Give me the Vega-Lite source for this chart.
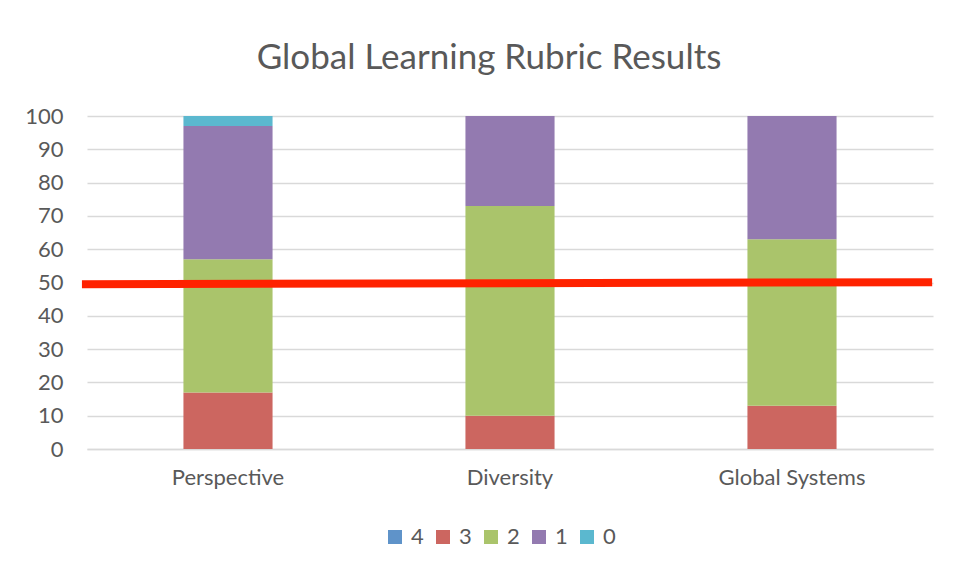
{
  "$schema": "https://vega.github.io/schema/vega-lite/v6.json",
  "autosize": "none",
  "width": 846,
  "height": 333,
  "padding": {"left": 87, "top": 116, "right": 23, "bottom": 128},
  "background": "white",
  "config": {
    "font": "Lato",
    "view": {"stroke": null},
    "axis": {"labelColor": "#595959", "labelFont": "Lato", "labelFontSize": 22, "gridColor": "#D9D9D9", "gridWidth": 1.5, "domainColor": "#D9D9D9", "domainWidth": 1.5, "ticks": false, "title": null},
    "legend": {"labelColor": "#595959", "labelFontSize": 22, "labelFont": "Lato"}
  },
  "title": {"text": "Global Learning Rubric Results", "fontSize": 35, "font": "Lato", "fontWeight": "normal", "color": "#595959", "anchor": "middle", "dx": -21, "offset": 29},
  "datasets": {
    "scores": [
      {"category": "Perspective", "score": "4", "value": 0},
      {"category": "Perspective", "score": "3", "value": 17},
      {"category": "Perspective", "score": "2", "value": 40},
      {"category": "Perspective", "score": "1", "value": 40},
      {"category": "Perspective", "score": "0", "value": 3},
      {"category": "Diversity", "score": "4", "value": 0},
      {"category": "Diversity", "score": "3", "value": 10},
      {"category": "Diversity", "score": "2", "value": 63},
      {"category": "Diversity", "score": "1", "value": 27},
      {"category": "Diversity", "score": "0", "value": 0},
      {"category": "Global Systems", "score": "4", "value": 0},
      {"category": "Global Systems", "score": "3", "value": 13},
      {"category": "Global Systems", "score": "2", "value": 50},
      {"category": "Global Systems", "score": "1", "value": 37},
      {"category": "Global Systems", "score": "0", "value": 0}
    ],
    "benchmark": [
      {"start": -0.006, "end": 0.999, "yStart": 49.5, "yEnd": 50.1}
    ]
  },
  "layer": [
    {
      "data": {"name": "scores"},
      "mark": {"type": "bar"},
      "encoding": {
        "x": {"field": "category", "type": "nominal", "sort": ["Perspective", "Diversity", "Global Systems"],
              "scale": {"paddingInner": 0.684, "paddingOuter": 0.342},
              "axis": {"labelAngle": 0, "labelPadding": 18, "grid": false, "domain": true}},
        "y": {"field": "value", "type": "quantitative", "stack": "zero",
              "scale": {"domain": [0, 100], "nice": false},
              "axis": {"values": [0,10,20,30,40,50,60,70,80,90,100], "labelOverlap": false, "domain": false, "grid": true, "labelPadding": 24}},
        "color": {"field": "score", "type": "nominal",
                  "scale": {"domain": ["4","3","2","1","0"], "range": ["#5F93C9", "#CC6660", "#AAC46B", "#937AB0", "#5BB8CF"]},
                  "legend": {"title": null, "orient": "none", "direction": "horizontal", "legendX": 297, "legendY": 410,
                             "symbolType": "square", "symbolSize": 196, "symbolStrokeWidth": 0, "labelOffset": 5, "columnPadding": 8}},
        "order": {"field": "score", "type": "ordinal", "sort": "descending"}
      }
    },
    {
      "data": {"name": "benchmark"},
      "mark": {"type": "rule", "color": "#FF2200", "strokeWidth": 8, "strokeCap": "butt"},
      "encoding": {
        "x": {"field": "start", "type": "quantitative", "scale": {"domain": [0, 1]}, "axis": null},
        "x2": {"field": "end"},
        "y": {"field": "yStart", "type": "quantitative", "axis": {"values": [0,10,20,30,40,50,60,70,80,90,100], "labelOverlap": false, "domain": false, "grid": true, "labelPadding": 24}},
        "y2": {"field": "yEnd"}
      }
    }
  ],
  "resolve": {"scale": {"x": "independent"}}
}
